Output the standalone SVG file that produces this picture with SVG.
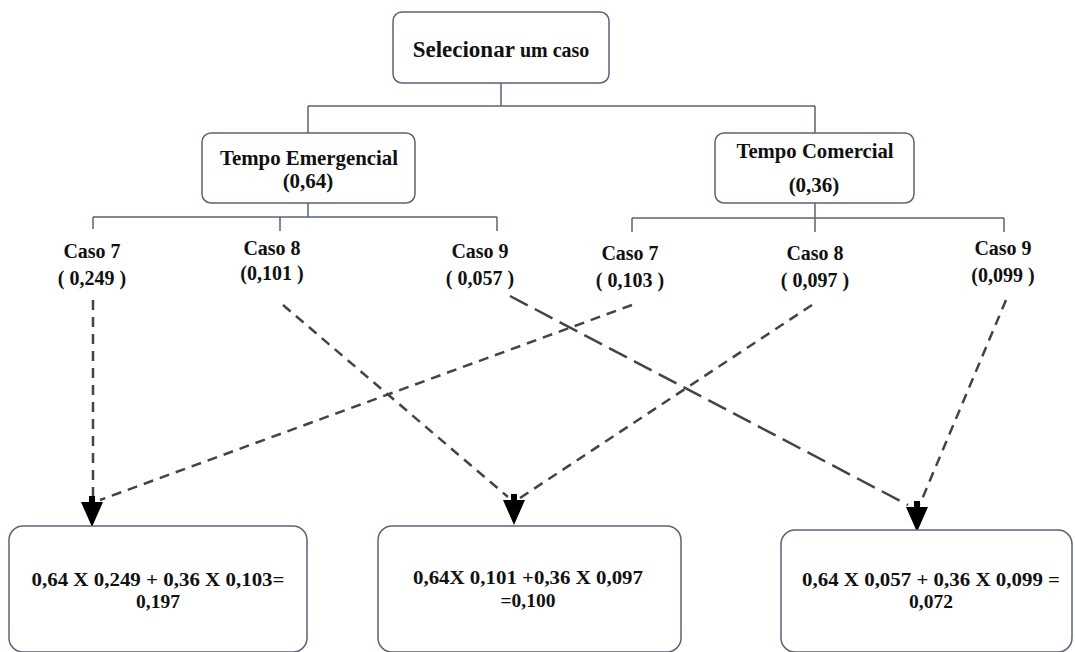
<svg xmlns="http://www.w3.org/2000/svg" xmlns:xlink="http://www.w3.org/1999/xlink" width="1075" height="652" viewBox="0 0 1075 652">
<style>
.box{fill:#fff;stroke:#5b6475;stroke-width:1.5}
.tree{fill:none;stroke:#5b6475;stroke-width:1.5}
.dash{fill:none;stroke:#444;stroke-width:2.5;stroke-dasharray:10 7}
.dashlong{fill:none;stroke:#444;stroke-width:2.5;stroke-dasharray:20 8}
text{font-family:"Liberation Serif","Times New Roman",serif;font-weight:bold;fill:#111;text-anchor:middle}
.t21{font-size:21px}
.t20{font-size:20px}
.t19{font-size:19.5px}
</style>
<defs>
<path id="head" d="M-11,0 L11,0 L0,25 Z M-3,-6 L3,-6 L3,1 L-3,1 Z" fill="#000"/>
</defs>
<rect width="1075" height="652" fill="#fff"/>
<g id="connectors">
<path class="tree" d="M501,83 V106 M308,106 H815 M308,106 V133 M815,106 V133"/>
<path class="tree" d="M308,203 V217 M93,217 H497 M93,217 V229 M280,217 V231 M497,217 V231"/>
<path class="tree" d="M815,203 V218 M632,218 H1004 M632,218 V232 M815,218 V232 M1004,218 V232"/>
<path class="dash" d="M93,300 V500"/>
<path class="dash" d="M632,305 L100,500"/>
<path class="dash" d="M283,305 L508,497"/>
<path class="dash" d="M812,305 L520,498"/>
<path class="dashlong" d="M510,296 L908,505"/>
<path class="dash" d="M1006,300 L920,504"/>
<use xlink:href="#head" transform="translate(92,502)"/>
<use xlink:href="#head" transform="translate(514,500)"/>
<use xlink:href="#head" transform="translate(917,507)"/>
</g>
<g id="node-top">
<rect class="box" x="393" y="12" width="216" height="71" rx="9"/>
<text y="57" x="501"><tspan font-size="23">Selecionar</tspan><tspan font-size="20"> um caso</tspan></text>
</g>
<g id="node-emergencial">
<rect class="box" x="202" y="133" width="213" height="70" rx="9"/>
<text class="t21" x="309" y="165" textLength="178" lengthAdjust="spacingAndGlyphs">Tempo Emergencial</text>
<text class="t21" x="308" y="188">(0,64)</text>
</g>
<g id="node-comercial">
<rect class="box" x="715" y="133" width="199" height="70" rx="9"/>
<text class="t21" x="815" y="158" textLength="157" lengthAdjust="spacingAndGlyphs">Tempo Comercial</text>
<text class="t21" x="814" y="192">(0,36)</text>
</g>
<g id="node-e7"><text class="t20" x="92" y="258">Caso 7</text><text class="t20" x="92" y="285">( 0,249 )</text></g>
<g id="node-e8"><text class="t20" x="272" y="255">Caso 8</text><text class="t20" x="272" y="280">(0,101 )</text></g>
<g id="node-e9"><text class="t20" x="480" y="258">Caso 9</text><text class="t20" x="480" y="285">( 0,057 )</text></g>
<g id="node-c7"><text class="t20" x="630" y="260">Caso 7</text><text class="t20" x="630" y="287">( 0,103 )</text></g>
<g id="node-c8"><text class="t20" x="815" y="260">Caso 8</text><text class="t20" x="815" y="287">( 0,097 )</text></g>
<g id="node-c9"><text class="t20" x="1003" y="255">Caso 9</text><text class="t20" x="1003" y="282">(0,099 )</text></g>
<g id="node-r1">
<rect class="box" x="9" y="526" width="298" height="126" rx="14"/>
<text class="t19" x="158" y="586" textLength="253" lengthAdjust="spacingAndGlyphs">0,64 X 0,249 + 0,36 X 0,103=</text>
<text class="t19" x="158" y="608">0,197</text>
</g>
<g id="node-r2">
<rect class="box" x="378" y="526" width="303" height="126" rx="14"/>
<text class="t19" x="528" y="584" textLength="230" lengthAdjust="spacingAndGlyphs">0,64X 0,101 +0,36 X 0,097</text>
<text class="t19" x="528" y="607">=0,100</text>
</g>
<g id="node-r3">
<rect class="box" x="781" y="530" width="291" height="122" rx="14"/>
<text class="t19" x="931" y="586" textLength="258" lengthAdjust="spacingAndGlyphs">0,64 X 0,057 + 0,36 X 0,099 =</text>
<text class="t19" x="931" y="608">0,072</text>
</g>
</svg>
